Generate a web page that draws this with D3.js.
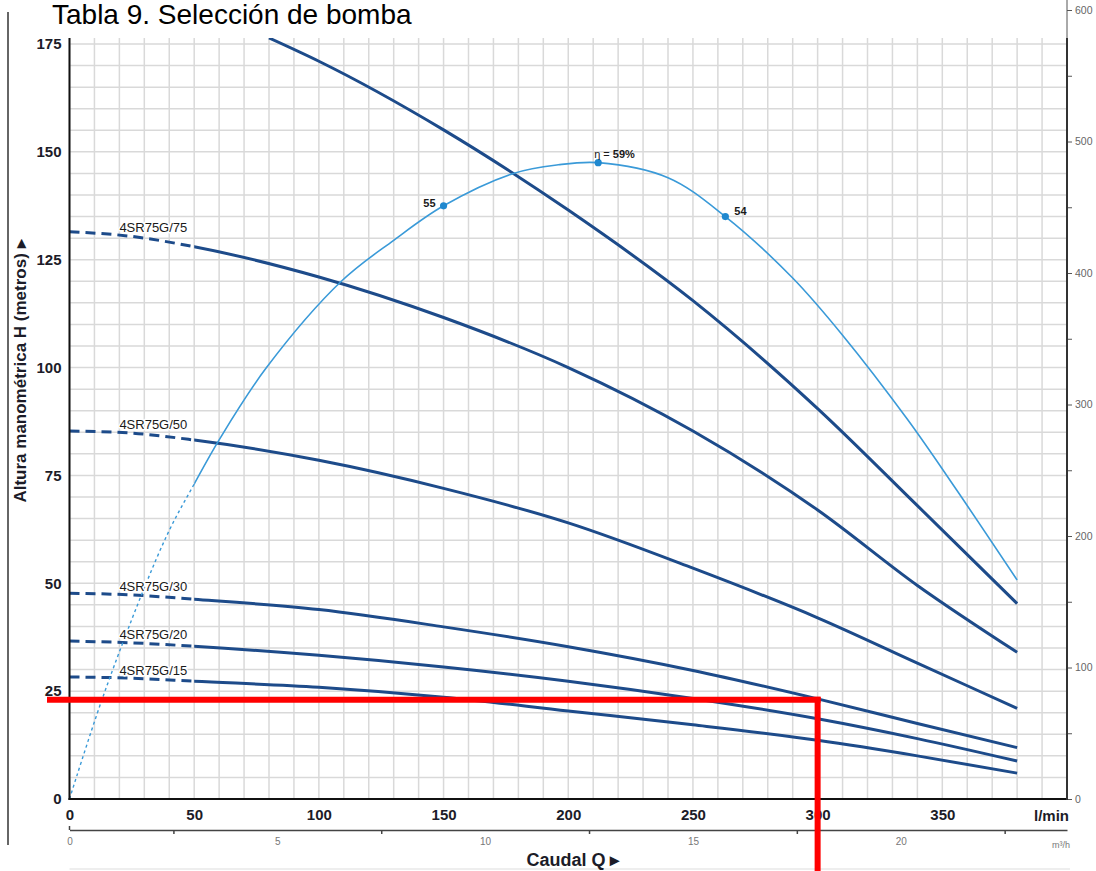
<!DOCTYPE html>
<html>
<head>
<meta charset="utf-8">
<title>Tabla 9. Selección de bomba</title>
<style>
body { margin: 0; background: #fff; }
svg { display: block; font-family: "Liberation Sans", Arial, sans-serif; }
.grid line { stroke: #d9d9d9; stroke-width: 1.5; }
.pump { fill: none; stroke: #1d4b8a; stroke-width: 3; }
.pump.dash { stroke-dasharray: 10,6; }
.eta { fill: none; stroke: #3a9ad8; stroke-width: 1.6; }
.eta.dash { stroke-dasharray: 3,3; stroke-width: 1.4; }
.curve-lbl { font-size: 13px; fill: #1a1a1a; paint-order: stroke; stroke: #fff; stroke-width: 3px; stroke-linejoin: round; }
.eta-lbl { font-size: 11px; fill: #1a1a1a; }
</style>
</head>
<body>
<script src="https://cdn.jsdelivr.net/npm/d3@7"></script>
<script>

// ---- data ----
var flowLmin = [0, 25, 50, 100, 150, 200, 250, 300, 340, 380];
var head75 = [131.5, 130.4, 128, 121, 111.6, 100, 85.3, 67, 49.5, 34];
var head50 = [85.3, 84.8, 83.2, 78.5, 72, 64, 53.5, 42, 31.5, 21];
var head30 = [47.7, 47.3, 46.3, 43.9, 39.9, 35.3, 29.8, 23.2, 17.5, 11.9];
var head20 = [36.6, 36.2, 35.4, 33.3, 30.6, 27.3, 23.3, 18.6, 14, 8.8];
var head15 = [28.3, 28, 27.3, 25.9, 23.6, 20.4, 17.2, 13.6, 10, 6];
var pumpNames = ["4SR75G/75", "4SR75G/50", "4SR75G/30", "4SR75G/20", "4SR75G/15"];

// biggest model, its label is cut off above the sheet
var flowTop = [80, 100, 150, 200, 250, 300, 340, 380];
var headTop = [176.4, 171, 155.1, 136.5, 115.5, 90.5, 68, 45.3];

// efficiency curve (%)
var etaFlow = [0, 13, 29, 40, 50, 60, 79, 109, 130, 150, 178, 196, 212, 240, 263, 290, 310, 336, 355, 380];
var etaPct = [0, 9.2, 19, 24.9, 29.2, 33.3, 40, 48, 51.8, 55, 58, 58.8, 59, 57.6, 54, 48.3, 43, 35.2, 28.9, 20.3];
var etaMarkFlow = [150, 212, 263];
var etaMarkPct = [55, 59, 54];

// tick labels
var headTicks = [0, 25, 50, 75, 100, 125, 150, 175];
var flowTicks = [0, 50, 100, 150, 200, 250, 300, 350];
var feetTicks = [0, 50, 100, 150, 200, 250, 300, 350, 400, 450, 500, 550, 600];
var m3hTicks = [0, 2.5, 5, 7.5, 10, 12.5, 15, 17.5, 20, 22.5];

// selected duty point (red lines)
var dutyFlow = 300, dutyHead = 23;

// ---- layout ----
var W = 1096, H = 871;
var plotTop = 38;

var x = d3.scaleLinear().domain([0, 400]).range([69.5, 1067]);
var y = d3.scaleLinear().domain([0, 175]).range([799, 44]);
var yFt = d3.scaleLinear().domain([0, 175 / 0.3048]).range([799, 44]);
var yEta = d3.scaleLinear().domain([0, 70]).range([799, 44]);
var xM3 = d3.scaleLinear().domain([0, 24]).range([x(0), x(400)]);

var svg = d3.select("body").append("svg")
    .attr("width", W)
    .attr("height", H);

// clip regions: whole plot, the dashed part (Q < 50) and the solid part (Q > 50)
var defs = svg.append("defs");
function clipRect(id, q0, q1) {
  defs.append("clipPath").attr("id", id)
    .append("rect")
      .attr("x", x(q0)).attr("y", plotTop)
      .attr("width", x(q1) - x(q0)).attr("height", y(0) - plotTop + 2);
}
clipRect("plot", 0, 400);
clipRect("low", 0, 50);
clipRect("high", 50, 400);

// title
svg.append("text")
    .attr("x", 52).attr("y", 24)
    .style("font-size", "28px")
    .text("Tabla 9. Selección de bomba");

// page border bits
svg.append("line").attr("x1", 8).attr("x2", 8).attr("y1", 12).attr("y2", 845)
    .attr("stroke", "#666").attr("stroke-width", 2);
svg.append("line").attr("x1", x(0)).attr("x2", 1070).attr("y1", 869).attr("y2", 869)
    .attr("stroke", "#ddd").attr("stroke-width", 1);

// grid
var grid = svg.append("g").attr("class", "grid");
grid.selectAll(".gv")
    .data(d3.range(0, 401, 10))
  .enter().append("line")
    .attr("x1", function(d) { return x(d); })
    .attr("x2", function(d) { return x(d); })
    .attr("y1", plotTop).attr("y2", y(0));
grid.selectAll(".gh")
    .data(d3.range(0, 176, 5))
  .enter().append("line")
    .attr("x1", x(0)).attr("x2", x(400))
    .attr("y1", function(d) { return y(d); })
    .attr("y2", function(d) { return y(d); });

// curves
var lineH = d3.line()
    .x(function(d) { return x(d[0]); })
    .y(function(d) { return y(d[1]); })
    .curve(d3.curveMonotoneX);
var lineEta = d3.line()
    .x(function(d) { return x(d[0]); })
    .y(function(d) { return yEta(d[1]); })
    .curve(d3.curveCatmullRom.alpha(0.5));

var curves = svg.append("g").attr("clip-path", "url(#plot)");
var lowPart = curves.append("g").attr("clip-path", "url(#low)");
var highPart = curves.append("g").attr("clip-path", "url(#high)");

var heads = [head75, head50, head30, head20, head15];
heads.forEach(function(hs) {
  var d = lineH(flowLmin.map(function(q, i) { return [q, hs[i]]; }));
  lowPart.append("path").attr("class", "pump dash").attr("d", d);
  highPart.append("path").attr("class", "pump").attr("d", d);
});
highPart.append("path").attr("class", "pump")
    .attr("stroke", "#173f75")
    .attr("d", lineH(flowTop.map(function(q, i) { return [q, headTop[i]]; })));

var etaD = lineEta(etaFlow.map(function(q, i) { return [q, etaPct[i]]; }));
lowPart.append("path").attr("class", "eta dash").attr("d", etaD);
highPart.append("path").attr("class", "eta").attr("d", etaD);

curves.selectAll(".etaDot")
    .data(etaMarkFlow)
  .enter().append("circle")
    .attr("cx", function(d) { return x(d); })
    .attr("cy", function(d, i) { return yEta(etaMarkPct[i]); })
    .attr("r", 3.6)
    .attr("fill", "#1f88cf");

// pump model labels on the dashed part
heads.forEach(function(hs, i) {
  svg.append("text").attr("class", "curve-lbl")
      .attr("x", x(20))
      .attr("y", y(hs[0] - 0.6 * (hs[0] - hs[1])) - 3)
      .text(pumpNames[i]);
});

// efficiency labels
svg.append("text").attr("class", "eta-lbl")
    .attr("x", x(etaMarkFlow[0]) - 8).attr("y", yEta(etaMarkPct[0]) + 1)
    .attr("text-anchor", "end").style("font-weight", "bold")
    .text(etaMarkPct[0]);
var peak = svg.append("text").attr("class", "eta-lbl")
    .attr("x", x(etaMarkFlow[1]) - 4).attr("y", yEta(etaMarkPct[1]) - 5);
peak.append("tspan").text("η = ");
peak.append("tspan").style("font-weight", "bold").text(etaMarkPct[1] + "%");
svg.append("text").attr("class", "eta-lbl")
    .attr("x", x(etaMarkFlow[2]) + 9).attr("y", yEta(etaMarkPct[2]) - 2)
    .style("font-weight", "bold")
    .text(etaMarkPct[2]);

// left axis (metres)
var gl = svg.append("g")
    .attr("transform", "translate(" + x(0) + ",0)")
    .call(d3.axisLeft(y).tickValues(headTicks).tickSize(0).tickPadding(8));
gl.select(".domain").remove();
gl.selectAll("text").style("font-size", "15px").style("font-weight", "bold").attr("fill", "#1c1c28")
    .attr("font-family", null);
svg.append("line").attr("x1", x(0)).attr("x2", x(0)).attr("y1", plotTop).attr("y2", y(0) + 1)
    .attr("stroke", "#111").attr("stroke-width", 2);

// bottom axis (l/min)
var gb = svg.append("g")
    .attr("transform", "translate(0," + y(0) + ")")
    .call(d3.axisBottom(x).tickValues(flowTicks).tickSize(0).tickPadding(10));
gb.select(".domain").remove();
gb.selectAll("text").style("font-size", "15px").style("font-weight", "bold").attr("fill", "#1c1c28")
    .attr("font-family", null);
svg.append("line").attr("x1", x(0) - 1).attr("x2", x(400)).attr("y1", y(0)).attr("y2", y(0))
    .attr("stroke", "#111").attr("stroke-width", 2);
svg.append("text")
    .attr("x", 1069).attr("y", 821)
    .attr("text-anchor", "end")
    .style("font-size", "15px").style("font-weight", "bold").attr("fill", "#1c1c28")
    .text("l/min");

// right axis (feet)
var gr = svg.append("g")
    .attr("transform", "translate(" + x(400) + ",0)")
    .call(d3.axisRight(yFt).tickValues(feetTicks).tickSize(5).tickPadding(3)
      .tickFormat(function(d) { return d % 100 === 0 ? d : ""; }));
gr.select(".domain").remove();
gr.selectAll("line").attr("stroke", "#555");
gr.selectAll("text").style("font-size", "10.5px").attr("fill", "#666").attr("font-family", null);
svg.append("line").attr("x1", x(400)).attr("x2", x(400)).attr("y1", plotTop).attr("y2", y(0) + 1)
    .attr("stroke", "#333").attr("stroke-width", 2);
svg.append("line").attr("x1", x(400)).attr("x2", x(400)).attr("y1", 0).attr("y2", plotTop)
    .attr("stroke", "#555").attr("stroke-width", 1);

// second flow axis (m3/h)
var gm = svg.append("g")
    .attr("transform", "translate(0,830)")
    .call(d3.axisBottom(xM3).tickValues(m3hTicks).tickSize(4).tickSizeOuter(0).tickPadding(4)
      .tickFormat(function(d) { return d % 5 === 0 ? d : ""; }));
gm.select(".domain").attr("stroke", "#444").attr("stroke-width", 1.5);
gm.selectAll(".tick line")
    .attr("stroke", "#444").attr("stroke-width", 1.5)
    .attr("y2", function(d) { return d % 5 === 0 ? 0 : 4; });
gm.selectAll("text").style("font-size", "10px").attr("fill", "#777").attr("font-family", null);
svg.append("line").attr("x1", xM3(0)).attr("x2", xM3(0)).attr("y1", 826).attr("y2", 830)
    .attr("stroke", "#444").attr("stroke-width", 1.5);
svg.append("text")
    .attr("x", 1070).attr("y", 848)
    .attr("text-anchor", "end")
    .style("font-size", "9px").attr("fill", "#777")
    .text("m³/h");

// axis titles
svg.append("text")
    .attr("transform", "translate(26,371) rotate(-90)")
    .attr("text-anchor", "middle")
    .style("font-size", "17px").style("font-weight", "bold").attr("fill", "#1c1c28")
    .text("Altura manométrica H (metros) ▸");
svg.append("text")
    .attr("x", 573).attr("y", 866)
    .attr("text-anchor", "middle")
    .style("font-size", "18px").style("font-weight", "bold").attr("fill", "#1c1c28")
    .text("Caudal Q ▸");

// duty point lines
svg.append("line")
    .attr("x1", 47).attr("x2", x(dutyFlow) + 3)
    .attr("y1", y(dutyHead)).attr("y2", y(dutyHead))
    .attr("stroke", "#ff0000").attr("stroke-width", 6);
svg.append("line")
    .attr("x1", x(dutyFlow)).attr("x2", x(dutyFlow))
    .attr("y1", y(dutyHead) - 3).attr("y2", H)
    .attr("stroke", "#ff0000").attr("stroke-width", 6);

</script>
</body>
</html>
